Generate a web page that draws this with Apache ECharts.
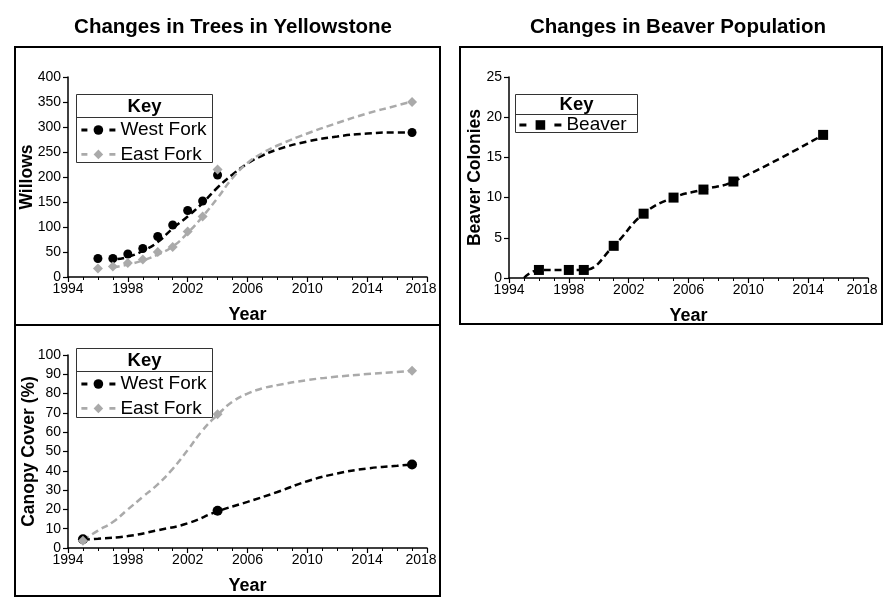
<!DOCTYPE html>
<html>
<head>
<meta charset="utf-8">
<title>Yellowstone</title>
<script src="https://cdn.jsdelivr.net/npm/echarts@6/dist/echarts.min.js"></script>
<style>
  html, body { margin: 0; padding: 0; background: #fff; }
  #main { width: 892px; height: 610px; }
</style>
</head>
<body>
<div id="main"></div>
<script>
// willows (top left)
var willowYears = [1996, 1997, 1998, 1999, 2000, 2001, 2002, 2003, 2004, 2017];
var westWillows = [37, 37, 46, 57, 81, 104, 133, 152, 204, 289];
var eastWillows = [17, 21, 28, 35, 50, 60, 91, 121, 215, 350];
// trend curves
var westWillowTrendYears = [1997.3, 1998, 1999, 2000, 2001, 2002, 2003, 2004, 2005, 2006, 2007, 2008, 2010, 2012, 2014, 2016, 2017];
var westWillowTrend = [36, 40, 52, 70, 97, 121, 148, 179, 205, 227, 243, 255, 271, 281, 287, 289, 289];
var eastWillowTrendYears = [1997, 1998, 1999, 2000, 2001, 2002, 2003, 2004, 2005, 2006, 2007, 2008, 2010, 2012, 2014, 2016, 2017];
var eastWillowTrend = [19, 25, 33, 45, 61, 88, 121, 158, 198, 228, 248, 263, 287, 308, 327, 343, 351];

// canopy cover (bottom left)
var canopyYears = [1995, 2004, 2017];
var westCanopy = [4.5, 19.3, 43.3];
var eastCanopy = [3.8, 69.3, 91.8];
var westCanopyTrendYears = [1995, 1996, 1998, 2000, 2002, 2004, 2006, 2008, 2010, 2012, 2014, 2016, 2017];
var westCanopyTrend = [4.3, 4.8, 6.2, 9.2, 12.8, 19, 23.9, 29, 34.6, 38.6, 41.2, 42.6, 43.3];
var eastCanopyTrendYears = [1995, 1996, 1997, 1998, 1999, 2000, 2001, 2002, 2003, 2004, 2005, 2006, 2007, 2008, 2010, 2012, 2014, 2016, 2017];
var eastCanopyTrend = [4, 9, 13.5, 20, 26.5, 33, 41, 50.7, 61, 69, 75.8, 80, 82.7, 84.4, 87, 88.8, 90.1, 91.2, 91.8];

// beaver colonies (right)
var beaverYears = [1996, 1998, 1999, 2001, 2003, 2005, 2007, 2009, 2015];
var beaverColonies = [1, 1, 1, 4, 8, 10, 11, 12, 17.8];
var beaverStart = [1995, 0];

var FONT = "'Liberation Sans', Arial, Helvetica, sans-serif";
var GREY = '#aaaaaa';
var DASH = [7, 4];

function zip(xs, ys) {
    var out = [];
    for (var i = 0; i < xs.length; i++) out.push([xs[i], ys[i]]);
    return out;
}

function xAxisFor(grid) {
    return {
        type: 'value', gridIndex: grid, min: 1994, max: 2018, interval: 4,
        name: 'Year', nameLocation: 'middle', nameGap: 29,
        nameTextStyle: { fontFamily: FONT, fontSize: 18, fontWeight: 'bold', color: '#000' },
        axisLine: { onZero: false, lineStyle: { color: '#000', width: 1.5 } },
        axisTick: { length: 5, lineStyle: { color: '#000', width: 1.2 } },
        minorTick: { show: true, splitNumber: 4, length: 3, lineStyle: { color: '#000', width: 1 } },
        axisLabel: {
            fontFamily: FONT, fontSize: 14, color: '#000', margin: 5,
            // last label sits a little left of its tick, as in the original
            formatter: function (v) { return v === 2018 ? '{r|2018}' : String(v); },
            rich: { r: { fontFamily: FONT, fontSize: 14, color: '#000', padding: [0, 12, 0, 0] } }
        },
        splitLine: { show: false }
    };
}

function yAxisFor(grid, max, step, name, gap) {
    return {
        type: 'value', gridIndex: grid, min: 0, max: max, interval: step,
        name: name, nameLocation: 'middle', nameGap: gap, nameMoveOverlap: false,
        nameTextStyle: { fontFamily: FONT, fontSize: 17.5, fontWeight: 'bold', color: '#000',
            rich: {
                b: { fontFamily: FONT, fontSize: 17.5, fontWeight: 'bold', color: '#000' },
                n: { fontFamily: FONT, fontSize: 17.5, color: '#000' }
            } },
        axisLine: { show: true, lineStyle: { color: '#000', width: 1.5 } },
        axisTick: { show: true, length: 5, lineStyle: { color: '#000', width: 1.2 } },
        axisLabel: { fontFamily: FONT, fontSize: 14, color: '#000', margin: 7 },
        splitLine: { show: false }
    };
}

function trend(name, grid, xs, ys, color, symbol) {
    return {
        type: 'line', name: name, xAxisIndex: grid, yAxisIndex: grid,
        data: zip(xs, ys), smooth: true, showSymbol: false, symbol: symbol,
        itemStyle: { color: color },
        lineStyle: { color: color, width: 2.5, type: DASH },
        silent: true, z: 2
    };
}

function points(name, grid, xs, ys, color, symbol, size) {
    return {
        type: 'scatter', name: name, xAxisIndex: grid, yAxisIndex: grid,
        data: zip(xs, ys), symbol: symbol, symbolSize: size,
        itemStyle: { color: color, opacity: 1 }, z: 3
    };
}

function keyBox(x, y, w, h, head) {
    return [
        { type: 'rect', z: 3, shape: { x: x, y: y, width: w, height: h },
          style: { fill: '#fff', stroke: '#333', lineWidth: 1 } },
        { type: 'line', z: 3, shape: { x1: x, y1: y + head, x2: x + w, y2: y + head },
          style: { stroke: '#333', lineWidth: 1 } },
        { type: 'text', z: 3, x: x + w / 2, y: y + head / 2 + 0.5,
          style: { text: 'Key', fontFamily: FONT, fontSize: 18.5, fontWeight: 'bold', fill: '#000',
                   align: 'center', verticalAlign: 'middle' } }
    ];
}

function panel(x, y, w, h) {
    return { type: 'rect', z: 0, shape: { x: x, y: y, width: w, height: h },
             style: { fill: 'none', stroke: '#000', lineWidth: 2 } };
}

function legendAt(left, top, names, iconW, dash) {
    return {
        left: left, top: top, orient: 'vertical', padding: 0, itemGap: 5.4,
        itemWidth: iconW, itemHeight: 12, selectedMode: false, data: names,
        lineStyle: { type: dash, width: 2.8 },
        textStyle: { fontFamily: FONT, fontSize: 19, color: '#000', lineHeight: 18 }
    };
}

var beaverData = [{ value: beaverStart, symbol: 'none' }].concat(zip(beaverYears, beaverColonies));

var chart = echarts.init(document.getElementById('main'), null, { renderer: 'canvas' });
chart.setOption({
    animation: false,
    backgroundColor: '#fff',
    title: [
        { text: 'Changes in Trees in Yellowstone', left: 228, top: 12, textAlign: 'center',
          textStyle: { fontFamily: FONT, fontSize: 20.5, fontWeight: 'bold', color: '#000' } },
        { text: 'Changes in Beaver Population', left: 673, top: 12, textAlign: 'center',
          textStyle: { fontFamily: FONT, fontSize: 20.5, fontWeight: 'bold', color: '#000' } }
    ],
    grid: [
        { left: 68, top: 77, width: 359, height: 200 },
        { left: 68, top: 355, width: 359, height: 193 },
        { left: 509, top: 77, width: 359, height: 201 }
    ],
    xAxis: [xAxisFor(0), xAxisFor(1), xAxisFor(2)],
    yAxis: [
        yAxisFor(0, 400, 50, 'Willows', 32),
        yAxisFor(1, 100, 10, '{b|Canopy Cover} {n|(%)}', 30),
        yAxisFor(2, 25, 5, 'Beaver Colonies', 25)
    ],
    legend: [
        legendAt(80, 120.5, ['West Fork', 'East Fork'], 34, [6, 22]),
        legendAt(80, 374.5, ['West Fork', 'East Fork'], 34, [6, 22]),
        legendAt(518, 115.5, ['Beaver'], 42, [7, 28])
    ],
    graphic: [
        panel(15, 47, 425, 278),
        panel(15, 325, 425, 271),
        panel(460, 47, 422, 277)
    ].concat(keyBox(76.5, 94.5, 136, 68, 23))
     .concat(keyBox(76.5, 348.5, 136, 69, 23))
     .concat(keyBox(515.5, 94.5, 122, 38, 20)),
    series: [
        trend('West Fork', 0, westWillowTrendYears, westWillowTrend, '#000', 'circle'),
        trend('East Fork', 0, eastWillowTrendYears, eastWillowTrend, GREY, 'diamond'),
        points('West Fork', 0, willowYears, westWillows, '#000', 'circle', 9),
        points('East Fork', 0, willowYears, eastWillows, GREY, 'diamond', 10),

        trend('West Fork', 1, westCanopyTrendYears, westCanopyTrend, '#000', 'circle'),
        trend('East Fork', 1, eastCanopyTrendYears, eastCanopyTrend, GREY, 'diamond'),
        points('West Fork', 1, canopyYears, westCanopy, '#000', 'circle', 10),
        points('East Fork', 1, canopyYears, eastCanopy, GREY, 'diamond', 10),

        {
            type: 'line', name: 'Beaver', xAxisIndex: 2, yAxisIndex: 2,
            data: beaverData, smooth: 0.45, symbol: 'rect', symbolSize: 10, showAllSymbol: true,
            itemStyle: { color: '#000' },
            lineStyle: { color: '#000', width: 2.5, type: DASH }
        }
    ]
});
</script>
</body>
</html>
